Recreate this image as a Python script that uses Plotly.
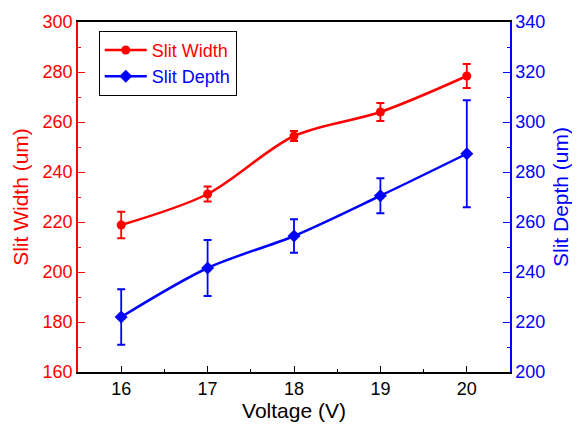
import plotly.graph_objects as go

voltage = [16, 17, 18, 19, 20]
slit_width = [218.8, 231.2, 254.4, 264.0, 278.4]
slit_width_err = [5.3, 3.0, 2.0, 3.6, 4.8]
slit_depth = [222.0, 241.6, 254.4, 270.5, 287.3]
slit_depth_err = [11.1, 11.2, 6.7, 7.0, 21.4]

FONT = "Liberation Sans, Arial, sans-serif"
RED = "#ff0000"
BLUE = "#0000ff"

fig = go.Figure()
fig.add_trace(go.Scatter(
    x=voltage, y=slit_width, name="<span style='color:#ff0000'>Slit Width</span>",
    mode="lines+markers", line=dict(color=RED, width=2.5, shape="spline", smoothing=0.9),
    marker=dict(symbol="circle", size=9, color=RED),
    error_y=dict(type="data", array=slit_width_err, color=RED, thickness=1.8, width=4),
    yaxis="y",
))
fig.add_trace(go.Scatter(
    x=voltage, y=slit_depth, name="<span style='color:#0000ff'>Slit Depth</span>",
    mode="lines+markers", line=dict(color=BLUE, width=2.5, shape="spline", smoothing=0.9),
    marker=dict(symbol="diamond", size=10, color=BLUE),
    error_y=dict(type="data", array=slit_depth_err, color=BLUE, thickness=1.8, width=4),
    yaxis="y2",
))

fig.update_layout(
    width=580, height=434,
    margin=dict(l=70, r=78, t=14, b=70),
    plot_bgcolor="white", paper_bgcolor="white",
    font=dict(family=FONT, size=18, color="black"),
    showlegend=True,
    legend=dict(x=0.048, y=0.975, xanchor="left", yanchor="top",
                bordercolor="black", borderwidth=1, bgcolor="white",
                font=dict(size=18), itemwidth=42, tracegroupgap=0),
    xaxis=dict(
        range=[15.5, 20.5], tickvals=voltage, showgrid=False, zeroline=False,
        showline=True, linecolor="black", linewidth=1.5, mirror=True,
        ticks="inside", ticklen=6, tickwidth=1, tickcolor="black",
        minor=dict(ticks="inside", ticklen=3, dtick=0.5, tickcolor="black"),
        tickfont=dict(size=18, color="black"), automargin=False,
        title=dict(text="Voltage (V)", font=dict(size=21, color="black"), standoff=4),
    ),
    yaxis=dict(
        range=[160, 300], dtick=20, showgrid=False, zeroline=False,
        showline=True, linecolor=RED, linewidth=1.5,
        ticks="inside", ticklen=7, tickwidth=1, tickcolor=RED,
        minor=dict(ticks="inside", ticklen=3, dtick=10, tickcolor=RED),
        tickfont=dict(size=18, color=RED), automargin=False,
        title=dict(text="Slit Width (um)", font=dict(size=21, color=RED), standoff=8),
    ),
    yaxis2=dict(
        range=[200, 340], dtick=20, overlaying="y", side="right",
        showgrid=False, zeroline=False,
        showline=True, linecolor=BLUE, linewidth=1.5,
        ticks="inside", ticklen=7, tickwidth=1, tickcolor=BLUE,
        minor=dict(ticks="inside", ticklen=3, dtick=10, tickcolor=BLUE),
        tickfont=dict(size=18, color=BLUE), automargin=False,
        title=dict(text="Slit Depth (um)", font=dict(size=21, color=BLUE), standoff=9),
    ),
)

fig.write_html("out.html")
